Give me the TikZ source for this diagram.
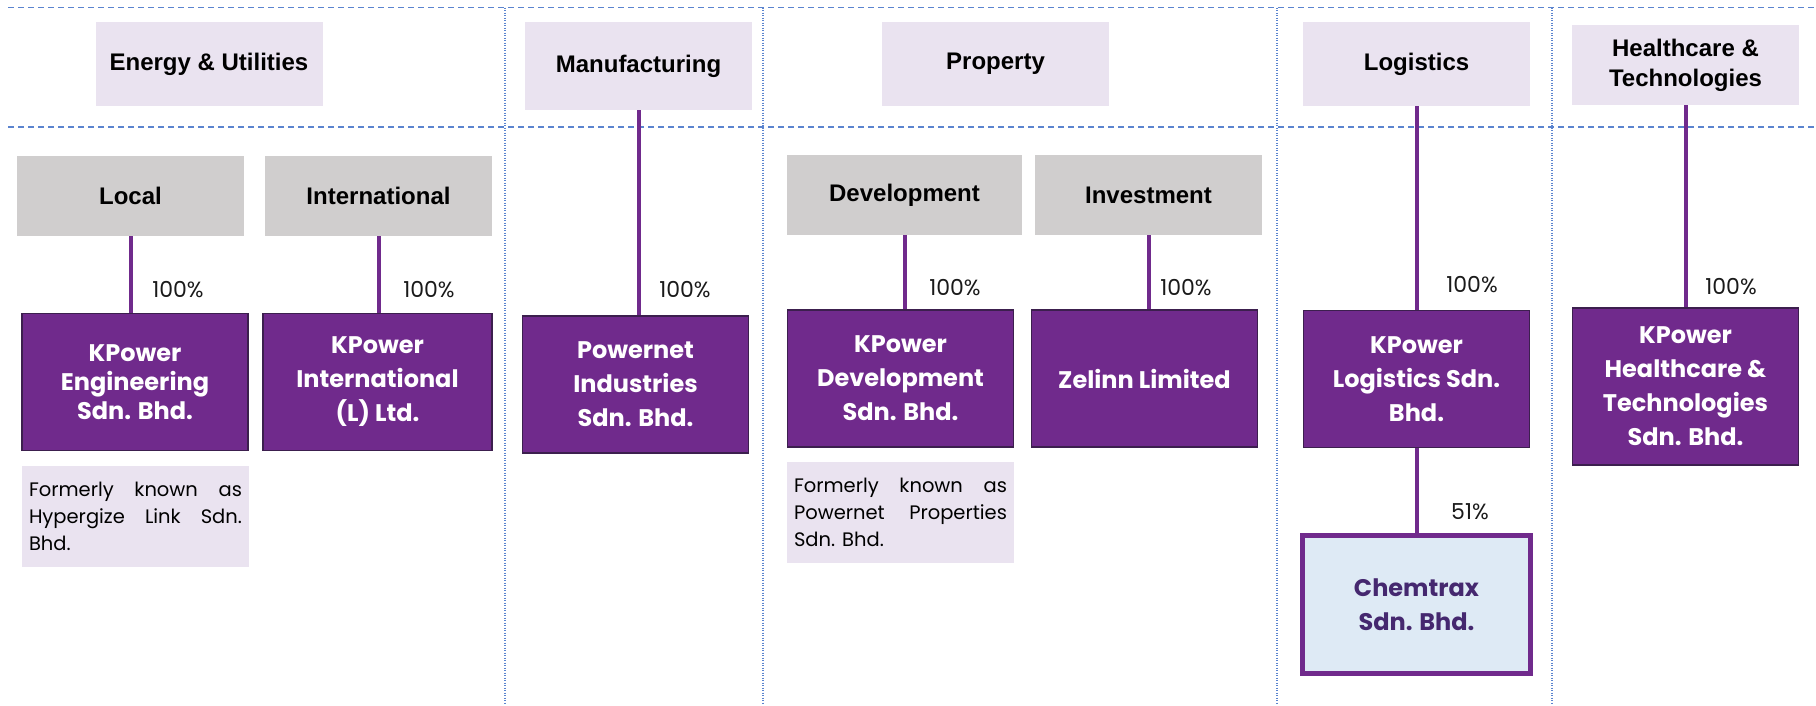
\documentclass[tikz,border=0pt]{standalone}
\usepackage{fontspec}
\setmainfont{Liberation Sans}
\newfontfamily\gothic{Poppins}
\usepackage{tikz}

\definecolor{kpurple}{HTML}{702A8C}
\definecolor{kdark}{HTML}{3C1F4E}
\definecolor{klilac}{HTML}{EAE3F0}
\definecolor{kgrey}{HTML}{D0CECE}
\definecolor{kblue}{HTML}{5B84CF}
\definecolor{kice}{HTML}{DEEAF5}
\definecolor{kink}{HTML}{45286F}
\definecolor{ktext}{HTML}{1A1A1A}

\begin{document}
\begin{tikzpicture}[x=1pt,y=-1pt,
  sector/.style={fill=klilac,minimum width=227pt,minimum height=84pt,align=center,
    font=\bfseries\fontsize{24}{30}\selectfont},
  subsector/.style={fill=kgrey,minimum width=227pt,minimum height=80pt,align=center,
    font=\bfseries\fontsize{24}{30}\selectfont},
  firm/.style={fill=kpurple,draw=kdark,line width=1.2pt,text=white,minimum width=226pt,
    minimum height=137pt,align=center,font=\gothic\bfseries\fontsize{24}{34}\selectfont},
  note/.style={fill=klilac,minimum width=227pt,minimum height=101pt,inner xsep=7pt,
    text width=213pt,align=justify,font=\gothic\fontsize{19.5}{27}\selectfont},
  pct/.style={text=ktext,font=\gothic\fontsize{22}{24}\selectfont},
  link/.style={kpurple,line width=4pt},
  band/.style={kblue,line width=1.5pt,dash pattern=on 6pt off 4pt},
  divider/.style={kblue,line width=1.3pt,dash pattern=on 1pt off 1.5pt}]
  \useasboundingbox (0,0) rectangle (1816,705);

  \draw[band] (8,7.5) -- (1816,7.5);
  \draw[band] (8,127) -- (1816,127);
  \foreach \x in {505,763,1277,1552}
    \draw[divider] (\x,7.5) -- (\x,705);

  % sectors
  \node[sector] (energy) at (209,64) {Energy \& Utilities};
  \node[sector,minimum height=88pt] (manuf) at (638.5,66) {Manufacturing};
  \node[sector] (property) at (995.5,64) {Property};
  \node[sector] (logistics) at (1416.5,64) {Logistics};
  \node[sector,minimum height=80pt] (health) at (1685.5,65) {Healthcare \&\\Technologies};

  \node[subsector] (local) at (130.5,196) {Local};
  \node[subsector] (intl) at (378.5,196) {International};
  \node[subsector,minimum width=235pt] (devt) at (904.5,195) {Development};
  \node[subsector] (invest) at (1148.5,195) {Investment};

  % companies
  \node[firm,font=\gothic\bfseries\fontsize{24}{29}\selectfont] (kpeng) at (135,382) {KPower\\Engineering\\Sdn. Bhd.};
  \node[firm,minimum width=229pt] (kpintl) at (377.5,382) {KPower\\International\\(L) Ltd.};
  \node[firm] (powernet) at (635.5,384.5) {Powernet\\Industries\\Sdn. Bhd.};
  \node[firm] (kpdev) at (900.5,378.5) {KPower\\Development\\Sdn. Bhd.};
  \node[firm] (zelinn) at (1144.5,378.5) {Zelinn Limited};
  \node[firm] (kplog) at (1416.5,379) {KPower\\Logistics Sdn.\\Bhd.};
  \node[firm,minimum height=157pt] (kphealth) at (1685.5,386.5) {KPower\\Healthcare \&\\Technologies\\Sdn. Bhd.};
  \node[firm,fill=kice,draw=kpurple,line width=5pt,text=kink,minimum width=228pt,
    minimum height=138pt] (chemtrax) at (1416.5,604.5) {Chemtrax\\Sdn. Bhd.};

  \node[note] (engnote) at (135.5,516.5) {Formerly known as\linebreak Hypergize Link Sdn.\linebreak Bhd.};
  \node[note] (devnote) at (900.5,512.5) {Formerly known as\linebreak Powernet Properties\linebreak Sdn. Bhd.};

  % holdings
  \draw[link] (local.south) -- (local.south |- kpeng.north);
  \draw[link] (intl.south) -- (intl.south |- kpintl.north);
  \draw[link] (manuf.south) -- (manuf.south |- powernet.north);
  \draw[link] (devt.south) -- (devt.south |- kpdev.north);
  \draw[link] (invest.south) -- (invest.south |- zelinn.north);
  \draw[link] (logistics.south) -- (logistics.south |- kplog.north);
  \draw[link] (health.south) -- (health.south |- kphealth.north);
  \draw[link] (kplog.south) -- (kplog.south |- chemtrax.north);

  \node[pct] (pclocal) at (178,290) {100\%};
  \node[pct] (pcintl) at (429,290) {100\%};
  \node[pct] (pcmanuf) at (685,290) {100\%};
  \node[pct] (pcdevt) at (955,288) {100\%};
  \node[pct] (pcinvest) at (1186,288) {100\%};
  \node[pct] (pclog) at (1472,285) {100\%};
  \node[pct] (pchealth) at (1731,287) {100\%};
  \node[pct] (pcchem) at (1470,512) {51\%};
\end{tikzpicture}
\end{document}
